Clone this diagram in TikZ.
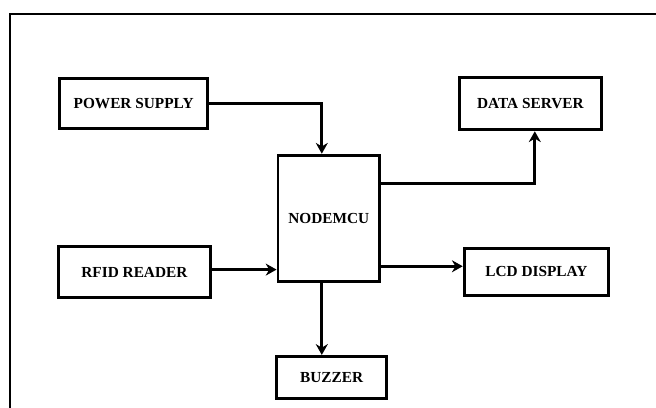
\documentclass[tikz,border=0pt]{standalone}
\usepackage{fontspec}
\setmainfont{Liberation Serif}
\usepackage{tikz}
\usetikzlibrary{
    positioning,
    arrows.meta
}
\tikzset{
    >={Stealth[length=0.27cm,width=0.3cm]},
    bloque/.style={
        draw,
        line width=2.1pt,
        inner sep=2pt,
        font=\bfseries\fontsize{10.9}{12}\selectfont
    },
    flecha/.style={
        ->,
        line width=2.4pt
    },
    codo/.style={
        to path={-| (\tikztotarget)}
    }
}

\begin{document}
\begin{tikzpicture}

    \useasboundingbox (0,0) rectangle (16.4,10.2);

    % Marco
    \draw[line width=1.4pt] (0.25,-0.5) -- (0.25,9.85) -- (17,9.85);

    % Bloques
    \node[bloque, minimum width=3.71cm, minimum height=1.26cm] (psu)    at (3.34,7.61)  {POWER SUPPLY};
    \node[bloque, minimum width=3.81cm, minimum height=1.29cm] (rfid)   at (3.36,3.40)  {RFID READER};
    \node[bloque, minimum width=2.54cm, minimum height=3.16cm] (mcu)    at (8.22,4.74)  {NODEMCU};
    \node[bloque, minimum width=2.76cm, minimum height=1.06cm] (buzzer) at (8.29,0.76)  {BUZZER};
    \node[bloque, minimum width=3.56cm, minimum height=1.31cm] (server) at (13.26,7.61) {DATA SERVER};
    \node[bloque, minimum width=3.61cm, minimum height=1.19cm] (lcd)    at (13.41,3.40) {LCD DISPLAY};

    % Conexiones
    \path[flecha]

        % Entradas
        (psu.east)
            edge[flecha, codo] ([xshift=-0.175cm]mcu.north)
        ([yshift=0.06cm]rfid.east)
            edge[flecha] ([yshift=0.06cm]rfid.east -| mcu.west)

        % Salidas
        ([yshift=-0.75cm]mcu.north east)
            edge[flecha, codo] ([xshift=0.11cm]server.south)
        ([yshift=0.42cm]mcu.south east)
            edge[flecha] ([yshift=0.42cm]mcu.south east -| lcd.west)
        ([xshift=-0.175cm]mcu.south)
            edge[flecha] ([xshift=-0.175cm]mcu.south |- buzzer.north);

\end{tikzpicture}
\end{document}
